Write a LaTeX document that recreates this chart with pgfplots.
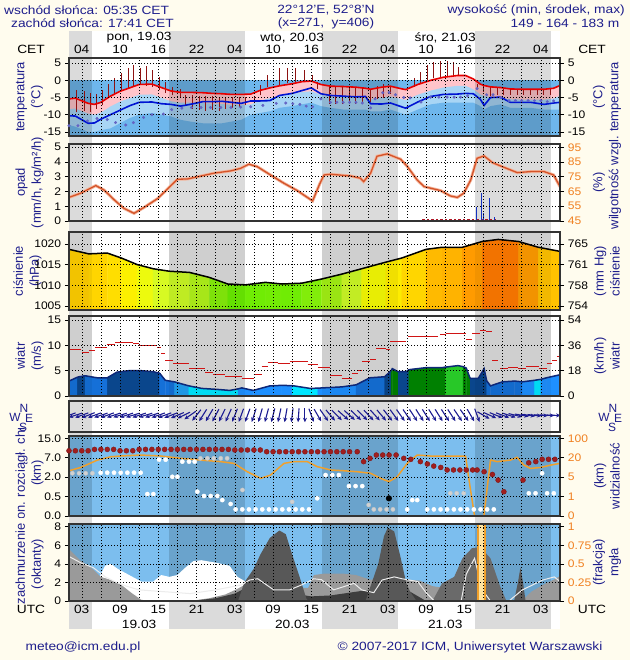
\documentclass[border=0pt]{standalone}
\usepackage{pgfplots}
\pgfplotsset{compat=1.18}
\usepackage{pgfplotstable}
\usetikzlibrary{arrows.meta}
\usepackage{fontspec}
\setmainfont{Liberation Sans}

\definecolor{bgcream}{HTML}{FFFCEE}
\definecolor{labnavy}{HTML}{1E1E8C}
\definecolor{nightg}{HTML}{DBDBDB}
\definecolor{tblue}{HTML}{6EB6EC}
\definecolor{tlight}{HTML}{A8D5F5}
\definecolor{tpink}{HTML}{FFC4CA}
\definecolor{tred}{HTML}{E80000}
\definecolor{tdew}{HTML}{0014D2}
\definecolor{tdot}{HTML}{6464C4}
\definecolor{tbar}{HTML}{8E1212}
\definecolor{humid}{HTML}{D4542A}
\definecolor{humidglow}{HTML}{F4B49A}
\definecolor{rain}{HTML}{1432C0}
\definecolor{drizzle}{HTML}{B01828}
\definecolor{windline}{HTML}{0E2878}
\definecolor{gust}{HTML}{D01414}
\definecolor{arrowc}{HTML}{1C1C92}
\definecolor{cbbg}{HTML}{7CBEEE}
\definecolor{vis}{HTML}{F0A02C}
\definecolor{orpale}{HTML}{FFE4A0}
\definecolor{cbdot}{HTML}{A01E1E}
\definecolor{tickor}{HTML}{F08020}
\definecolor{cgA}{HTML}{9A9A9A}
\definecolor{cgB}{HTML}{585858}
\definecolor{cgC}{HTML}{3E3E3E}
\definecolor{cgD}{HTML}{6A6A6A}

\newcommand\tf{\fontsize{12}{13}\selectfont}
\newcommand\kf{\fontsize{11}{12}\selectfont}
\newcommand\lf{\fontsize{13}{16}\selectfont}

% night shading inside a panel
\newcommand\nightband[3]{\fill[black,opacity=#3] ({axis cs:#1,0}|-{rel axis cs:0,0}) rectangle ({axis cs:#2,0}|-{rel axis cs:0,1});}
\newcommand\nightsop[1]{\nightband{1}{4.58}{#1}\nightband{16.68}{28.58}{#1}\nightband{40.68}{52.58}{#1}\nightband{64.68}{76.58}{#1}}
\newcommand\nights{\nightsop{0.14}}

\pgfplotsset{
  panel/.style={scale only axis, width=491bp, anchor=north west,
    xmin=1, xmax=78, axis on top,
    xtick={3,6,...,75}, xticklabels={}, xtick style={draw=none},
    grid=major, major grid style={black, line width=0.5bp, dash pattern=on 1bp off 2bp},
    ytick pos=left, tick align=outside, major tick length=4bp,
    ytick style={black, line width=0.6bp},
    axis line style={black!80, line width=1.2bp},
    yticklabel style={font=\kf, xscale=1.1},
    axis background/.style={fill=white}},
  rpanel/.style={scale only axis, width=491bp, anchor=north west,
    xmin=1, xmax=78, hide x axis, axis y line*=right,
    y axis line style={draw=none},
    tick align=outside, major tick length=4bp,
    ytick style={black, line width=0.6bp},
    yticklabel style={font=\kf, xscale=1.1}},
}

% hours from 00 UTC 19.03
\pgfplotstableread{
h T Td P L
1 -5.4 -10.3 -8.4 -13
2 -5.2 -10.4 -8.2 -13.5
4 -6.7 -12.5 -9.7 -15
5 -7.0 -12.4 -10.0 -15
6 -6.4 -11.3 -9.4 -14.5
7.5 -4.6 -10.0 -7.6 -14
9 -3.2 -8.7 -6.2 -12.5
10.5 -2.2 -7.4 -5.2 -11
12 -1.2 -6.4 -4.2 -10
14 -1.1 -6.3 -4.1 -9.5
15.5 -2.1 -6.8 -5.1 -10
17 -3.1 -7.0 -6.1 -10.5
18.5 -3.5 -7.5 -6.5 -11.5
20 -3.5 -7.0 -6.5 -12
22 -3.6 -6.2 -6.6 -12.5
23.5 -3.8 -6.2 -6.8 -12.5
25 -3.9 -6.1 -6.9 -12.5
26.5 -4.1 -6.4 -7.1 -12
28 -4.1 -6.7 -7.1 -11.5
29.5 -4.0 -6.0 -7.0 -10
31 -2.9 -6.0 -5.9 -9.5
32.5 -2.2 -5.9 -5.2 -9
34 -1.6 -4.4 -4.6 -8
36 -1.0 -3.8 -4.0 -7.5
37.5 -0.4 -3.0 -3.4 -7
39 -0.2 -2.2 -3.2 -6.5
40.5 -1.2 -3.9 -4.2 -7.5
42 -1.7 -4.4 -4.7 -8
44 -1.8 -4.6 -4.8 -8.5
46 -2.0 -4.8 -5.0 -8.5
47.5 -2.3 -4.7 -5.3 -8.5
48.3 -2.6 -6.8 -5.6 -9
50 -2.0 -6.9 -5.0 -9
51.4 -1.7 -6.6 -4.7 -8.5
53 -2.4 -7.6 -5.4 -9.5
53.8 -2.7 -8.1 -5.7 -10
55.7 -1.2 -6.3 -4.2 -8.5
57.7 0.0 -4.7 -3.0 -7
59.7 0.9 -4.1 -2.1 -6.5
61.9 1.4 -4.0 -1.6 -6.5
63.2 1.4 -3.8 -1.6 -6.5
64.4 0.4 -3.9 -2.6 -6.5
65.5 -1.1 -5.5 -4.1 -7.5
66.1 -1.5 -7.3 -4.5 -8.5
67.1 -1.9 -5.0 -4.9 -7.5
68.7 -2.1 -4.9 -5.1 -7
70.2 -2.5 -6.4 -5.5 -8
72 -2.6 -6.4 -5.6 -8
73.4 -2.6 -6.4 -5.6 -8
75.5 -2.6 -7.0 -5.6 -8.5
77 -2.3 -6.6 -5.3 -8.5
78 -1.5 -6.4 -4.5 -8.5
}\tempdata

\pgfplotstableread{
h v
1.0 -13.2
2.4 -13.2
3.9 -11.8
5.4 -11.1
7.0 -11.4
8.3 -12.3
9.9 -13.0
11.1 -12.3
12.7 -10.8
14.0 -10.0
15.8 -9.8
17.1 -8.5
18.7 -8.1
20.2 -7.9
21.7 -7.9
23.2 -7.9
24.8 -7.9
26.4 -7.9
27.9 -7.8
29.5 -7.7
31.4 -7.3
33.5 -6.7
35.0 -6.6
36.1 -6.8
37.2 -7.0
38.2 -7.5
39.2 -7.7
40.5 -5.4
42.0 -6.4
43.0 -6.4
44.0 -6.4
45.0 -6.4
46.0 -6.4
47.0 -6.6
48.3 -8.0
49.0 -5.4
50.2 -3.6
51.2 -3.5
52.2 -4.2
53.5 -5.0
54.5 -5.1
56.2 -6.3
57.7 -4.9
59.0 -4.9
60.3 -4.9
61.4 -4.9
62.4 -4.9
63.5 -4.5
65.0 -2.4
66.5 -4.2
67.5 -4.2
68.7 -5.0
70.0 -5.9
71.0 -5.9
72.0 -5.9
73.0 -5.9
74.0 -5.9
75.0 -5.9
76.0 -6.2
77.0 -6.0
}\tdots

% relative humidity, on the 0..5 scale (45..95 %)
\pgfplotstableread{
h v
1.0 1.6
2.8 1.88
5.2 2.4
6.5 2.1
8.1 1.43
9.6 0.86
11.2 0.52
12.8 0.93
14.9 1.52
16.4 2.15
18.0 2.83
19.6 2.85
21.7 3.05
23.7 3.24
26.4 3.4
27.9 3.57
29.2 3.85
30.5 3.69
32.6 3.12
34.7 2.56
36.8 2.06
39.2 1.36
40.3 2.5
41.0 3.12
42.0 3.17
45.2 3.05
46.7 2.9
47.2 2.67
48.3 3.24
49.3 4.39
50.9 4.55
53.0 4.19
54.0 3.73
55.6 2.78
56.7 2.33
59.3 2.06
60.8 1.7
61.9 1.6
62.9 1.88
64.0 2.78
65.0 4.25
66.1 4.41
67.4 3.96
69.2 3.64
71.3 3.28
73.4 3.35
75.5 3.35
77.0 3.12
78.0 2.33
}\humdata

% pressure: top then bottom of each column
\pgfplotstableread{
h y c
1 1018.7 1018.7
1 1003 1018.7
4.1 1017.6 1017.6
4.1 1003 1017.6
7 1017.8 1017.8
7 1003 1017.8
9.2 1016.6 1016.6
9.2 1003 1016.6
11.7 1015.0 1015.0
11.7 1003 1015.0
14.2 1014.0 1014.0
14.2 1003 1014.0
16.7 1013.4 1013.4
16.7 1003 1013.4
19.9 1013.1 1013.1
19.9 1003 1013.1
23 1011.9 1011.9
23 1003 1011.9
25.9 1010.3 1010.3
25.9 1003 1010.3
28.7 1010.1 1010.1
28.7 1003 1010.1
31.8 1010.7 1010.7
31.8 1003 1010.7
34.4 1010.3 1010.3
34.4 1003 1010.3
37.5 1010.5 1010.5
37.5 1003 1010.5
40.6 1011.5 1011.5
40.6 1003 1011.5
43.8 1012.7 1012.7
43.8 1003 1012.7
46.9 1014.0 1014.0
46.9 1003 1014.0
50.7 1015.6 1015.6
50.7 1003 1015.6
53.2 1016.6 1016.6
53.2 1003 1016.6
57 1018.7 1018.7
57 1003 1018.7
59.5 1019.2 1019.2
59.5 1003 1019.2
62.7 1019.2 1019.2
62.7 1003 1019.2
65.8 1020.6 1020.6
65.8 1003 1020.6
68.3 1021.1 1021.1
68.3 1003 1021.1
71.5 1020.6 1020.6
71.5 1003 1020.6
74.6 1019.2 1019.2
74.6 1003 1019.2
78 1018.2 1018.2
78 1003 1018.2
}\presmesh

% wind speed (m/s): top then bottom, c = colour class
\pgfplotstableread{
h y c
1.0 2.95 0
1.0 -1 0
2.3 3.7 0
2.3 -1 0
2.31 3.7 1
2.31 -1 1
2.6 3.8 1
2.6 -1 1
3.5 4.0 1
3.5 -1 1
3.51 4.0 0
3.51 -1 0
5.4 3.6 0
5.4 -1 0
7.0 3.6 0
7.0 -1 0
7.01 3.6 1
7.01 -1 1
8.5 4.7 1
8.5 -1 1
10.4 5.0 1
10.4 -1 1
12.3 5.0 1
12.3 -1 1
14.2 4.8 1
14.2 -1 1
15.2 4.5 1
15.2 -1 1
15.21 4.5 0
15.21 -1 0
16.1 3.1 0
16.1 -1 0
17.5 2.8 0
17.5 -1 0
17.51 2.8 2
17.51 -1 2
19.8 2.0 2
19.8 -1 2
19.81 2.0 3
19.81 -1 3
21.8 1.5 3
21.8 -1 3
24.3 1.3 3
24.3 -1 3
26.2 1.1 3
26.2 -1 3
27.5 1.4 3
27.5 -1 3
27.51 1.4 4
27.51 -1 4
28.1 1.6 4
28.1 -1 4
29.9 1.1 4
29.9 -1 4
32.5 2.0 4
32.5 -1 4
34.3 2.1 4
34.3 -1 4
36.0 2.05 4
36.0 -1 4
36.01 2.05 3
36.01 -1 3
38.8 1.5 3
38.8 -1 3
40.0 1.55 3
40.0 -1 3
40.01 1.55 4
40.01 -1 4
43.8 1.8 4
43.8 -1 4
46.0 2.2 4
46.0 -1 4
46.01 2.2 0
46.01 -1 0
48.2 3.6 0
48.2 -1 0
50.5 3.8 0
50.5 -1 0
50.51 3.8 1
50.51 -1 1
51.5 5.0 1
51.5 -1 1
51.51 5.0 5
51.51 -1 5
51.7 5.4 5
51.7 -1 5
52.6 4.8 5
52.6 -1 5
52.61 4.8 1
52.61 -1 1
53.9 4.8 1
53.9 -1 1
54.3 5.2 1
54.3 -1 1
54.31 5.2 5
54.31 -1 5
57.0 5.6 5
57.0 -1 5
59.5 5.6 5
59.5 -1 5
60.0 5.7 5
60.0 -1 5
60.01 5.7 6
60.01 -1 6
62.0 6.0 6
62.0 -1 6
62.8 5.8 6
62.8 -1 6
62.81 5.8 5
62.81 -1 5
63.3 5.5 5
63.3 -1 5
63.9 3.5 5
63.9 -1 5
63.91 3.5 1
63.91 -1 1
65.2 3.5 1
65.2 -1 1
66.1 5.4 1
66.1 -1 1
66.5 3.0 1
66.5 -1 1
66.51 3.0 0
66.51 -1 0
67.1 2.0 0
67.1 -1 0
69.0 2.8 0
69.0 -1 0
70.9 2.95 0
70.9 -1 0
72.1 2.8 0
72.1 -1 0
72.11 2.8 4
72.11 -1 4
74.0 3.1 4
74.0 -1 4
74.01 3.1 3
74.01 -1 3
75.0 3.3 3
75.0 -1 3
75.01 3.3 4
75.01 -1 4
75.9 3.6 4
75.9 -1 4
78.0 4.2 4
78.0 -1 4
}\windmesh

% wind direction: screen angle of the arrow, degrees
\pgfplotstableread{
h a
1 200
2 198
3 200
4 202
5 200
6 198
7 200
8 198
9 197
10 198
11 197
12 198
13 197
14 198
15 199
16 200
17 201
18 203
19 206
20 215
21 232
22 238
23 240
24 242
25 244
26 246
27 248
28 250
29 250
30 252
31 254
32 255
33 256
34 258
35 260
36 263
37 266
38 270
39 290
40 300
41 305
42 310
43 315
44 318
45 318
46 316
47 315
48 313
49 312
50 310
51 308
52 306
53 305
54 304
55 303
56 303
57 302
58 302
59 302
60 303
61 303
62 304
63 305
64 300
65 290
66 330
67 336
68 338
69 340
70 342
71 346
72 350
73 352
74 354
75 356
76 357
77 358
}\dirdata
% arrow of 14 px centred on its hour
\pgfplotstablecreatecol[create col/expr={2.2*cos(\thisrow{a})}]{du}\dirdata
\pgfplotstablecreatecol[create col/expr={0.9*sin(\thisrow{a})}]{dv}\dirdata
\pgfplotstablecreatecol[create col/expr={\thisrow{h}-1.1*cos(\thisrow{a})}]{x0}\dirdata
\pgfplotstablecreatecol[create col/expr={0.08-0.45*sin(\thisrow{a})}]{y0}\dirdata

% visibility on the 0..4 level scale
\pgfplotstableread{
h v
1.01 2.33
2.84 2.5
5.45 2.88
7.54 3.05
9.11 3.09
12.24 3.14
15.38 3.09
18.51 2.97
21.65 2.88
24.78 2.8
26.87 2.71
28.96 2.28
31.05 1.94
32.62 2.11
34.71 2.71
36.28 2.8
38.37 2.8
39.93 2.54
40.46 2.5
42.02 2.37
44.11 2.33
46.2 2.28
48.29 2.2
49.86 1.94
51.17 1.77
52.47 2.02
54.04 2.71
55.61 3.14
57.7 3.09
60.83 3.09
63.19 3.09
63.97 1.34
64.6 0
66.06 0
67.1 2.88
68.15 2.8
70.24 2.88
71.28 3.02
72.33 2.62
73.37 2.45
74.94 2.5
76.51 2.62
78 2.71
}\visdata

\pgfplotstableread{
h v
1 3.36
2 3.36
3 3.36
4 3.36
5 3.43
6 3.43
7 3.43
8 3.43
9 3.36
10 3.36
11 3.36
12 3.43
13 3.43
14 3.43
15 3.43
16 3.43
17 3.43
18 3.43
19 3.43
20 3.43
21 3.43
22 3.43
23 3.43
24 3.43
25 3.43
26 3.43
27 3.40
28 3.40
29 3.40
30 3.40
31 3.40
32 3.31
33 3.31
34 3.31
35 3.31
36 3.31
37 3.31
38 3.31
39 3.31
40 3.31
41 3.31
42 3.31
43 3.31
44 3.31
45 3.31
46.2 3.31
47.2 2.8
48.2 2.97
49.2 3.14
50.2 3.14
51.2 3.14
52.3 3.14
53.5 2.97
54.6 2.92
56.1 2.8
57.2 2.68
58.2 2.57
59.3 2.5
60.3 2.37
61.3 2.37
62.3 2.37
63.3 2.37
64.3 2.37
65.0 2.37
66.1 2.28
67.4 2.14
68.3 1.85
69.2 1.25
72.2 1.85
73.1 2.74
74.2 2.8
75.2 2.92
76.2 2.92
77.2 2.92
}\reddots

\pgfplotstableread{
h v
5.97 2.23
7.0 2.23
8.06 2.23
9.11 2.23
10.15 2.23
11.2 2.23
12.24 2.23
13.29 1.13
14.23 1.13
15.12 2.9
16.16 2.9
17.21 2.02
18.0 2.02
18.77 2.8
19.82 2.8
20.7 2.8
21.13 1.25
22.17 1.03
23.22 1.03
24.26 1.03
25.04 0.82
26.35 0.62
27.13 0.34
28.18 0.34
29.22 0.34
30.27 0.34
31.31 0.34
32.36 0.34
33.4 0.34
34.45 0.34
35.49 0.34
36.54 0.34
37.58 0.34
38.63 0.34
39.93 0.91
41.24 2.11
42.29 2.11
43.33 2.11
44.9 1.54
45.94 1.54
46.99 1.54
54.04 0.34
54.83 0.82
55.61 0.82
57.18 0.34
58.22 0.34
59.27 0.34
60.31 0.34
61.36 0.34
62.4 0.34
63.45 0.34
64.49 0.34
65.54 0.34
66.58 0.34
67.62 0.34
73.11 1.17
74.16 1.17
75.2 2.2
75.98 1.17
77.03 1.17
}\whitedots

\pgfplotstableread{
h v
1.53 2.2
2.58 2.2
3.62 2.2
4.67 2.2
21.6 2.97
22.7 2.97
23.7 2.97
24.8 2.97
25.8 2.97
28.2 1.34
36.0 0.73
48.0 0.57
48.8 0.34
49.8 0.34
50.8 0.34
51.8 0.34
60.8 1.17
61.8 1.17
62.9 1.17
}\greydots

\begin{document}
\begin{tikzpicture}
\useasboundingbox (0,0) rectangle (630bp,-660bp);
\fill[bgcream] (0,0) rectangle (630bp,-660bp);
\fill[white] (69bp,-31bp) rectangle (560bp,-629bp);
\foreach \a/\b in {69/91.83,168.98/244.87,322.02/397.9,475.05/550.93}
  \fill[nightg] (\a bp,-31bp) rectangle (\b bp,-629bp);

% header
\begin{scope}[every node/.style={font=\tf, text=labnavy, xscale=1.15, inner sep=0pt}]
\node[anchor=west] at (4bp,-10bp) {wschód słońca: 05:35 CET};
\node[anchor=west] at (11bp,-23bp) {zachód słońca: 17:41 CET};
\node at (326bp,-10bp) {22°12'E, 52°8'N};
\node at (326bp,-23bp) {(x=271,\ \ y=406)};
\node[anchor=east] at (625bp,-10bp) {wysokość (min, środek, max)};
\node at (565bp,-23bp) {149 - 164 - 183 m};
\node at (83bp,-647bp) {meteo@icm.edu.pl};
\node at (470bp,-647bp) {© 2007-2017 ICM, Uniwersytet Warszawski};
\end{scope}

\begin{scope}[every node/.style={font=\tf, text=black, xscale=1.15, inner sep=0pt}]
\node at (31bp,-49bp) {CET};
\node at (592bp,-49bp) {CET};
\node at (31bp,-609bp) {UTC};
\node at (592bp,-609bp) {UTC};
\foreach \i/\l in {0/04,1/10,2/16,3/22,4/04,5/10,6/16,7/22,8/04,9/10,10/16,11/22,12/04}
  \node at ({81.75bp+38.26bp*\i},-49bp) {\l};
\foreach \i/\l in {0/03,1/09,2/15,3/21,4/03,5/09,6/15,7/21,8/03,9/09,10/15,11/21,12/03}
  \node at ({81.75bp+38.26bp*\i},-609bp) {\l};
\node at (139.1bp,-38bp) {pon, 19.03};
\node at (292.2bp,-38bp) {wto, 20.03};
\node at (445.2bp,-38bp) {śro, 21.03};
\node at (139.1bp,-624bp) {19.03};
\node at (292.2bp,-624bp) {20.03};
\node at (445.2bp,-624bp) {21.03};
\end{scope}

% side labels
\begin{scope}[every node/.style={rotate=90, align=center, font=\lf, text=labnavy, inner sep=0pt}]
\node at (29.5bp,-97bp) {temperatura\\(°C)};
\node at (607bp,-97bp) {(°C)\\temperatura};
\node at (29.5bp,-182.5bp) {opad\\(mm/h, kg/m²/h)};
\node at (607bp,-182.5bp) {(\%)\\wilgotność wzgl.};
\node at (27.5bp,-271bp) {ciśnienie\\(hPa)};
\node at (607bp,-271bp) {(mm Hg)\\ciśnienie};
\node at (29.5bp,-356bp) {wiatr\\(m/s)};
\node at (607bp,-356bp) {(km/h)\\wiatr};
\node at (607bp,-476bp) {(km)\\widzialność};
\node at (29.5bp,-564bp) {zachmurzenie\\(oktanty)};
\node at (607bp,-562.5bp) {(frakcja)\\mgła};
\end{scope}
\begin{scope}
\clip (0,-428bp) rectangle (60bp,-517bp);
\node[rotate=90, align=center, font=\lf, text=labnavy, inner sep=0pt] at (29.5bp,-473bp) {pion. rozciągł. chm.\\(km)};
\end{scope}
\begin{scope}[every node/.style={font=\tf, text=labnavy, inner sep=0pt}]
\node at (15bp,-417bp) {W};
\node at (24bp,-408bp) {N};
\node at (29bp,-418bp) {E};
\node at (23bp,-427bp) {S};
\node at (604bp,-417bp) {W};
\node at (613bp,-408bp) {N};
\node at (618bp,-418bp) {E};
\node at (612bp,-427bp) {S};
\end{scope}

% 1 temperature
\begin{axis}[panel, at={(69bp,-58bp)}, height=78bp, ymin=-16.2, ymax=6.5,
  ytick={-15,-10,-5,0,5}, yticklabels={-15,-10,-5,0,5}]
\fill[tblue] (rel axis cs:0,0) rectangle ({rel axis cs:1,0}|-{axis cs:0,0});
\addplot[fill=tpink, draw=none] table[x=h,y=T] {\tempdata} -- (axis cs:78,-17) -- (axis cs:1,-17) -- cycle;
\addplot[fill=tlight, draw=none] table[x=h,y=P] {\tempdata} -- (axis cs:78,-17) -- (axis cs:1,-17) -- cycle;
\addplot[fill=tblue, draw=none] table[x=h,y=L] {\tempdata} -- (axis cs:78,-17) -- (axis cs:1,-17) -- cycle;
\nights
\addplot[tbar, line width=0.8bp, unbounded coords=jump] coordinates {
(2.21,-9.3)(2.21,-2.9)(2.21,nan) (3.36,-8.8)(3.36,-3.2)(3.36,nan)
(4.30,-9.3)(4.30,-3.6)(4.30,nan) (5.29,-8.3)(5.29,-3.9)(5.29,nan)
(6.24,-7.3)(6.24,-2.9)(6.24,nan) (7.12,-4.9)(7.12,-1.2)(7.12,nan)
(8.17,-3.9)(8.17,0.75)(8.17,nan) (9.21,-3.2)(9.21,2.0)(9.21,nan)
(10.26,-2.4)(10.26,3.5)(10.26,nan) (11.09,-1.9)(11.09,4.5)(11.09,nan)
(12.14,-1.4)(12.14,3.7)(12.14,nan) (13.13,-1.6)(13.13,4.3)(13.13,nan)
(14.07,-1.9)(14.07,3.0)(14.07,nan) (15.12,-2.9)(15.12,1.0)(15.12,nan)
(16.16,-3.6)(16.16,-0.4)(16.16,nan) (17.21,-4.4)(17.21,-1.9)(17.21,nan)
(18.41,-5.2)(18.41,-2.4)(18.41,nan) (19.3,-7.3)(19.3,-4.4)(19.3,nan)
(20.34,-8.3)(20.34,-4.4)(20.34,nan) (21.39,-8.5)(21.39,-4.6)(21.39,nan)
(22.43,-8.8)(22.43,-4.6)(22.43,nan) (23.48,-8.6)(23.48,-4.6)(23.48,nan)
(24.52,-8.8)(24.52,-4.9)(24.52,nan) (25.57,-8.3)(25.57,-4.9)(25.57,nan)
(26.61,-8.1)(26.61,-4.9)(26.61,nan) (27.66,-7.8)(27.66,-4.9)(27.66,nan)
(28.7,-7.3)(28.7,-4.9)(28.7,nan) (30.0,-6.4)(30.0,-4.9)(30.0,nan)
(31.05,-4.4)(31.05,-1.4)(31.05,nan) (32.1,-1.9)(32.1,1.5)(32.1,nan)
(33.93,-1.4)(33.93,3.5)(33.93,nan) (35.23,-0.9)(35.23,3.7)(35.23,nan)
(36.54,-0.4)(36.54,3.5)(36.54,nan) (37.85,-0.4)(37.85,3.0)(37.85,nan)
(39.15,-0.4)(39.15,1.5)(39.15,nan) (39.93,-2.4)(39.93,-0.4)(39.93,nan)
(41.76,-6.8)(41.76,-1.9)(41.76,nan) (42.81,-6.8)(42.81,-1.9)(42.81,nan)
(43.85,-6.8)(43.85,-1.9)(43.85,nan) (44.9,-6.8)(44.9,-1.9)(44.9,nan)
(45.94,-6.8)(45.94,-1.9)(45.94,nan) (46.99,-6.8)(46.99,-1.9)(46.99,nan)
(48.29,-6.4)(48.29,-2.4)(48.29,nan) (49.34,-5.4)(49.34,-1.6)(49.34,nan)
(50.28,-5.2)(50.28,-1.2)(50.28,nan) (51.43,-3.9)(51.43,-1.9)(51.43,nan)
(55.09,-1.9)(55.09,0.6)(55.09,nan) (56.13,-0.9)(56.13,2.5)(56.13,nan)
(57.18,0.1)(57.18,4.5)(57.18,nan) (58.22,0.6)(58.22,5.3)(58.22,nan)
(59.27,1.0)(59.27,5.7)(59.27,nan) (60.31,1.3)(60.31,5.5)(60.31,nan)
(61.36,1.5)(61.36,5.3)(61.36,nan) (62.14,1.5)(62.14,4.0)(62.14,nan)
(65.0,-2.4)(65.0,-1.2)(65.0,nan) (66.06,-3.4)(66.06,-1.6)(66.06,nan)
(67.1,-4.6)(67.1,-1.9)(67.1,nan) (68.15,-4.2)(68.15,-2.2)(68.15,nan)
(69.2,-4.2)(69.2,-2.4)(69.2,nan) (70.24,-4.2)(70.24,-2.4)(70.24,nan)
(71.28,-4.2)(71.28,-2.4)(71.28,nan) (72.33,-4.2)(72.33,-2.4)(72.33,nan)
(73.37,-4.2)(73.37,-2.4)(73.37,nan) (74.42,-4.2)(74.42,-2.4)(74.42,nan)
(75.46,-4.2)(75.46,-2.4)(75.46,nan) (76.51,-4.2)(76.51,-2.4)(76.51,nan)
};
\addplot[only marks, mark=*, mark size=1.3bp, tdot] table[x=h,y=v] {\tdots};
\addplot[tdew, line width=1.6bp] table[x=h,y=Td] {\tempdata};
\addplot[tred, line width=1.6bp] table[x=h,y=T] {\tempdata};
\end{axis}
\begin{axis}[rpanel, at={(69bp,-58bp)}, height=78bp, ymin=-16.2, ymax=6.5,
  ytick={-15,-10,-5,0,5}, yticklabels={-15,-10,-5,0,5}]
\end{axis}

% 2 precipitation and humidity
\begin{axis}[panel, at={(69bp,-144bp)}, height=77bp, ymin=0, ymax=5.22,
  ytick={0,1,2,3,4,5}, yticklabels={0,1,2,3,4,5}]
\nights
\addplot[humidglow, line width=3bp] table[x=h,y=v] {\humdata};
\addplot[humid, line width=1.3bp] table[x=h,y=v] {\humdata};
\addplot[drizzle, line width=2.2bp, dash pattern=on 2.5bp off 2bp] coordinates {(56.4,0.05) (67.9,0.05)};
\addplot[rain, ycomb, line width=1bp] coordinates {(64.9,0.97) (65.64,1.88) (66.06,0.52) (66.95,1.54) (67.73,0.25)};
\end{axis}
\begin{axis}[rpanel, at={(69bp,-144bp)}, height=77bp, ymin=0, ymax=5.22,
  ytick={0,1,2,3,4,5}, yticklabels={45,55,65,75,85,95}, yticklabel style={text=tickor}]
\end{axis}

% 3 pressure
\begin{axis}[panel, at={(69bp,-232bp)}, height=78bp, ymin=1004, ymax=1022.9,
  ytick={1005,1010,1015,1020}, yticklabels={1005,1010,1015,1020},
  colormap={pres}{rgb255(0cm)=(100,235,0); rgb255(2cm)=(160,240,20); rgb255(3.5cm)=(210,250,40); rgb255(5cm)=(250,250,0); rgb255(7cm)=(255,225,0); rgb255(8.5cm)=(255,200,0); rgb255(9.5cm)=(255,170,0); rgb255(11cm)=(255,115,0)},
  point meta min=1010, point meta max=1021]
\nights
\addplot[surf, shader=flat mean, mesh/ordering=y varies, mesh/rows=2, point meta=explicit] table[x=h,y=y,meta=c] {\presmesh};
\nightsop{0.05}
\addplot[black, line width=1.5bp, each nth point=2, filter discard warning=false] table[x=h,y=y] {\presmesh};
\end{axis}
\begin{axis}[rpanel, at={(69bp,-232bp)}, height=78bp, ymin=1004, ymax=1022.9,
  ytick={1005,1010,1015,1020}, yticklabels={754,758,761,765}]
\end{axis}

% 4 wind speed and gusts
\begin{axis}[panel, at={(69bp,-316bp)}, height=80bp, ymin=0, ymax=15.8,
  ytick={0,5,10,15}, yticklabels={0,5,10,15},
  colormap={windc}{rgb255(0cm)=(21,112,216); rgb255(1cm)=(10,70,140); rgb255(2cm)=(34,160,240); rgb255(3cm)=(0,230,255); rgb255(4cm)=(30,144,255); rgb255(5cm)=(0,128,0); rgb255(6cm)=(40,200,40)},
  point meta min=0, point meta max=6]
\nights
\addplot[surf, shader=flat corner, mesh/ordering=y varies, mesh/rows=2, point meta=explicit] table[x=h,y=y,meta=c] {\windmesh};
\nightsop{0.05}
\addplot[windline, line width=1.5bp, each nth point=2, filter discard warning=false] table[x=h,y=y] {\windmesh};
\addplot[gust, line width=1bp, unbounded coords=jump] coordinates {
(1.12,9.2)(2.88,9.2)(2.88,nan) (3.07,8.6)(4.14,8.6)(4.14,nan)
(4.14,9.0)(5.08,9.0)(5.08,nan) (5.08,9.6)(6.97,9.6)(6.97,nan)
(6.97,10.2)(8.23,10.2)(8.23,nan) (8.23,10.6)(11.06,10.6)(11.06,nan)
(11.06,10.4)(12.0,10.4)(12.0,nan) (12.0,10.0)(14.84,10.0)(14.84,nan)
(14.84,9.6)(15.47,9.6)(15.47,nan) (15.47,8.4)(16.1,8.4)(16.1,nan)
(16.1,7.1)(17.36,7.1)(17.36,nan) (17.36,6.4)(19.87,6.4)(19.87,nan)
(19.87,5.4)(22.39,5.4)(22.39,nan) (22.39,4.6)(23.65,4.6)(23.65,nan)
(23.65,4.2)(25.54,4.2)(25.54,nan) (25.54,3.9)(28.06,3.9)(28.06,nan)
(28.06,3.5)(29.94,3.5)(29.94,nan) (29.94,4.2)(31.2,4.2)(31.2,nan)
(31.2,5.8)(32.15,5.8)(32.15,nan) (32.15,6.7)(33.72,6.7)(33.72,nan)
(33.72,6.4)(35.61,6.4)(35.61,nan) (35.61,6.8)(38.44,6.8)(38.44,nan)
(38.44,6.3)(40.01,6.3)(40.01,nan) (40.01,5.7)(41.9,5.7)(41.9,nan)
(41.9,4.0)(43.79,4.0)(43.79,nan) (43.79,3.5)(45.36,3.5)(45.36,nan)
(45.36,4.4)(46.3,4.4)(46.3,nan) (46.3,5.0)(46.93,5.0)(46.93,nan)
(46.93,6.8)(48.19,6.8)(48.19,nan) (48.19,7.3)(49.14,7.3)(49.14,nan)
(49.14,9.4)(50.71,9.4)(50.71,nan) (50.71,9.2)(51.34,9.2)(51.34,nan)
(51.34,10.7)(53.86,10.7)(53.86,nan) (54.17,11.7)(58.89,11.7)(58.89,nan)
(59.21,12.1)(60.15,12.1)(60.15,nan) (60.15,12.4)(63.3,12.4)(63.3,nan)
(63.3,11.1)(64.24,11.1)(64.24,nan) (64.24,12.4)(65.5,12.4)(65.5,nan)
(65.5,12.9)(66.45,12.9)(66.45,nan) (66.45,12.7)(67.39,12.7)(67.39,nan)
(67.39,7.0)(68.33,7.0)(68.33,nan) (68.65,5.5)(69.91,5.5)(69.91,nan)
(69.91,5.6)(71.48,5.6)(71.48,nan) (71.48,5.4)(72.74,5.4)(72.74,nan)
(72.74,5.8)(74.63,5.8)(74.63,nan) (74.63,5.4)(75.9,5.4)(75.9,nan)
(75.9,6.4)(76.8,6.4)(76.8,nan) (76.8,7.0)(77.5,7.0)(77.5,nan)
(77.5,7.8)(78,7.8)
};
\end{axis}
\begin{axis}[rpanel, at={(69bp,-316bp)}, height=80bp, ymin=0, ymax=15.8,
  ytick={0,5,10,15}, yticklabels={0,18,36,54}]
\end{axis}

% 5 wind direction
\begin{axis}[panel, at={(69bp,-401bp)}, height=31bp, ymin=-1, ymax=1, ytick=\empty]
\nights
\addplot[arrowc, line width=1.1bp, -{Stealth[length=4.5bp, width=4bp]},
  quiver={u=\thisrow{du}, v=\thisrow{dv}}]
  table[x=x0, y=y0] {\dirdata};
\end{axis}

% 6 cloud extent and visibility
\begin{axis}[panel, at={(69bp,-436bp)}, height=80bp, ymin=0, ymax=4.12,
  ytick={0,1,2,3,4}, yticklabels={0.0,0.5,2.0,7.0,15.0},
  axis background/.style={fill=cbbg}]
\nights
\addplot[vis, line width=1.5bp] table[x=h,y=v] {\visdata};
\addplot[only marks, mark=*, mark size=2.5bp, color=cbdot, mark options={draw=cbdot!80!black}] table[x=h,y=v] {\reddots};
\addplot[only marks, mark=*, mark size=2.1bp, mark options={fill=gray!35, draw=gray!45}] table[x=h,y=v] {\greydots};
\addplot[only marks, mark=*, mark size=2.1bp, mark options={fill=white, draw=white}] table[x=h,y=v] {\whitedots};
\addplot[only marks, mark=*, mark size=2.8bp, black] coordinates {(51.17,0.91)};
\end{axis}
\begin{axis}[rpanel, at={(69bp,-436bp)}, height=80bp, ymin=0, ymax=4.12,
  ytick={0,1,2,3,4}, yticklabels={0,1,5,20,100}, yticklabel style={text=tickor}]
\end{axis}

% 7 cloud cover and fog
\begin{axis}[panel, at={(69bp,-524bp)}, height=77bp, ymin=0, ymax=8.3,
  ytick={0,2,4,6,8}, yticklabels={0,2,4,6,8},
  axis background/.style={fill=cbbg}]
\nights
\addplot[fill=white, draw=none] coordinates {(4.77,0) (4.77,1.2) (6.66,3.8) (7.6,4.0) (8.55,3.5) (10.43,2.8) (12.32,2.1) (14.21,2.1) (15.47,2.8) (16.73,2.6) (17.99,2.8) (19.25,3.6) (20.5,4.3) (21.76,4.4) (24.28,4.1) (26.17,3.8) (27.43,2.6) (28.68,2.1) (29.3,1.2) (29.6,0)} \closedcycle;
\addplot[fill=cgA, draw=none] coordinates {(1,5.6) (2.9,4.3) (4.5,3.6) (6,2.6) (7.6,2.26) (9.2,1.74) (10.75,0.9) (12.3,0.14) (13.6,0) (20,0) (23,0.3) (25.5,0.7) (27.4,1.3) (28.7,1.8) (30.6,2.1) (33,2.0) (36,1.5) (38.5,1.4) (39.4,2.8) (41,2.95) (44,2.95) (46,2.8) (48.2,2.3) (50,2.4) (52,2.2) (54,2.3) (56,2.2) (58,1.6) (60,1.4) (62,1.5) (63,2.2) (64,3.0) (65,3.5) (66,3.0) (67,1.5) (68,0.5) (68.5,0) (72,0) (73.5,1.0) (75.5,1.8) (77,2.3) (78,2.7)} \closedcycle;
\addplot[fill=cgC, draw=none] coordinates {(20,0) (24,0.3) (27,0.8) (29,1.5) (31,1.8) (33,1.4) (36,0.8) (39,0.5) (42,0.6) (45,0.9) (48,1.2) (50,1.8) (53,1.6) (55,0.8) (57,0)} \closedcycle;
\addplot[fill=cgB, draw=none] coordinates {(27.5,0) (28.5,2.0) (30,3.5) (31,5.0) (32.5,6.8) (34,7.6) (35,7.2) (36,5.0) (37.3,2.3) (38.2,0.3) (38.5,0)} \closedcycle;
\addplot[fill=cgB, draw=none] coordinates {(47.5,0) (48.5,2.0) (49.5,4.0) (50.4,7.0) (51.0,7.9) (52.0,7.5) (52.9,5.0) (53.9,1.9) (54.5,1.0) (55.5,0)} \closedcycle;
\addplot[fill=cgD, draw=none] coordinates {(58,0) (59.5,1.9) (61.4,2.6) (62.7,4.6) (64.2,5.7) (65.5,5.8) (67.1,4.6) (68.6,1.6) (69.6,0)} \closedcycle;
\addplot[fill=cgB, draw=none] coordinates {(70.8,0) (71.4,2.0) (71.8,3.6) (72.2,2.0) (72.6,0)} \closedcycle;
\addplot[white!85!gray, line width=1bp] coordinates {(1,4.8) (2.9,4.1) (4.8,3.6) (6.7,2.6) (8.5,2.0) (10,1.6) (12,1.2) (16,1.0) (20,0.8) (24,1.2) (28.1,1.74) (29.3,2.26) (30.6,2.4) (33.1,1.2) (35.6,1.2) (37.5,1.74) (39.4,2.4) (40.6,2.3) (42.5,1.2) (45.7,1.9) (46.9,1.2) (48.8,0.9) (50.1,2.26) (52,2.6) (53.2,2.4) (55.7,2.1) (57,0.9) (58.3,0) (62.5,0) (63.3,2.9) (64.6,4.6) (65.8,1.2) (67.1,0) (70,0) (72.1,1.2) (75.3,2.26) (77.1,2.6) (78,2.1)};
\addplot[orpale, ycomb, line width=5bp] coordinates {(65.7,8.3)};
\addplot[vis, ycomb, line width=2bp] coordinates {(65.2,8.3) (66.2,8.3)};
\end{axis}
\begin{axis}[rpanel, at={(69bp,-524bp)}, height=77bp, ymin=0, ymax=8.3,
  ytick={0,2,4,6,8}, yticklabels={0,0.25,0.5,0.75,1}, yticklabel style={text=tickor}]
\end{axis}
\end{tikzpicture}
\end{document}
